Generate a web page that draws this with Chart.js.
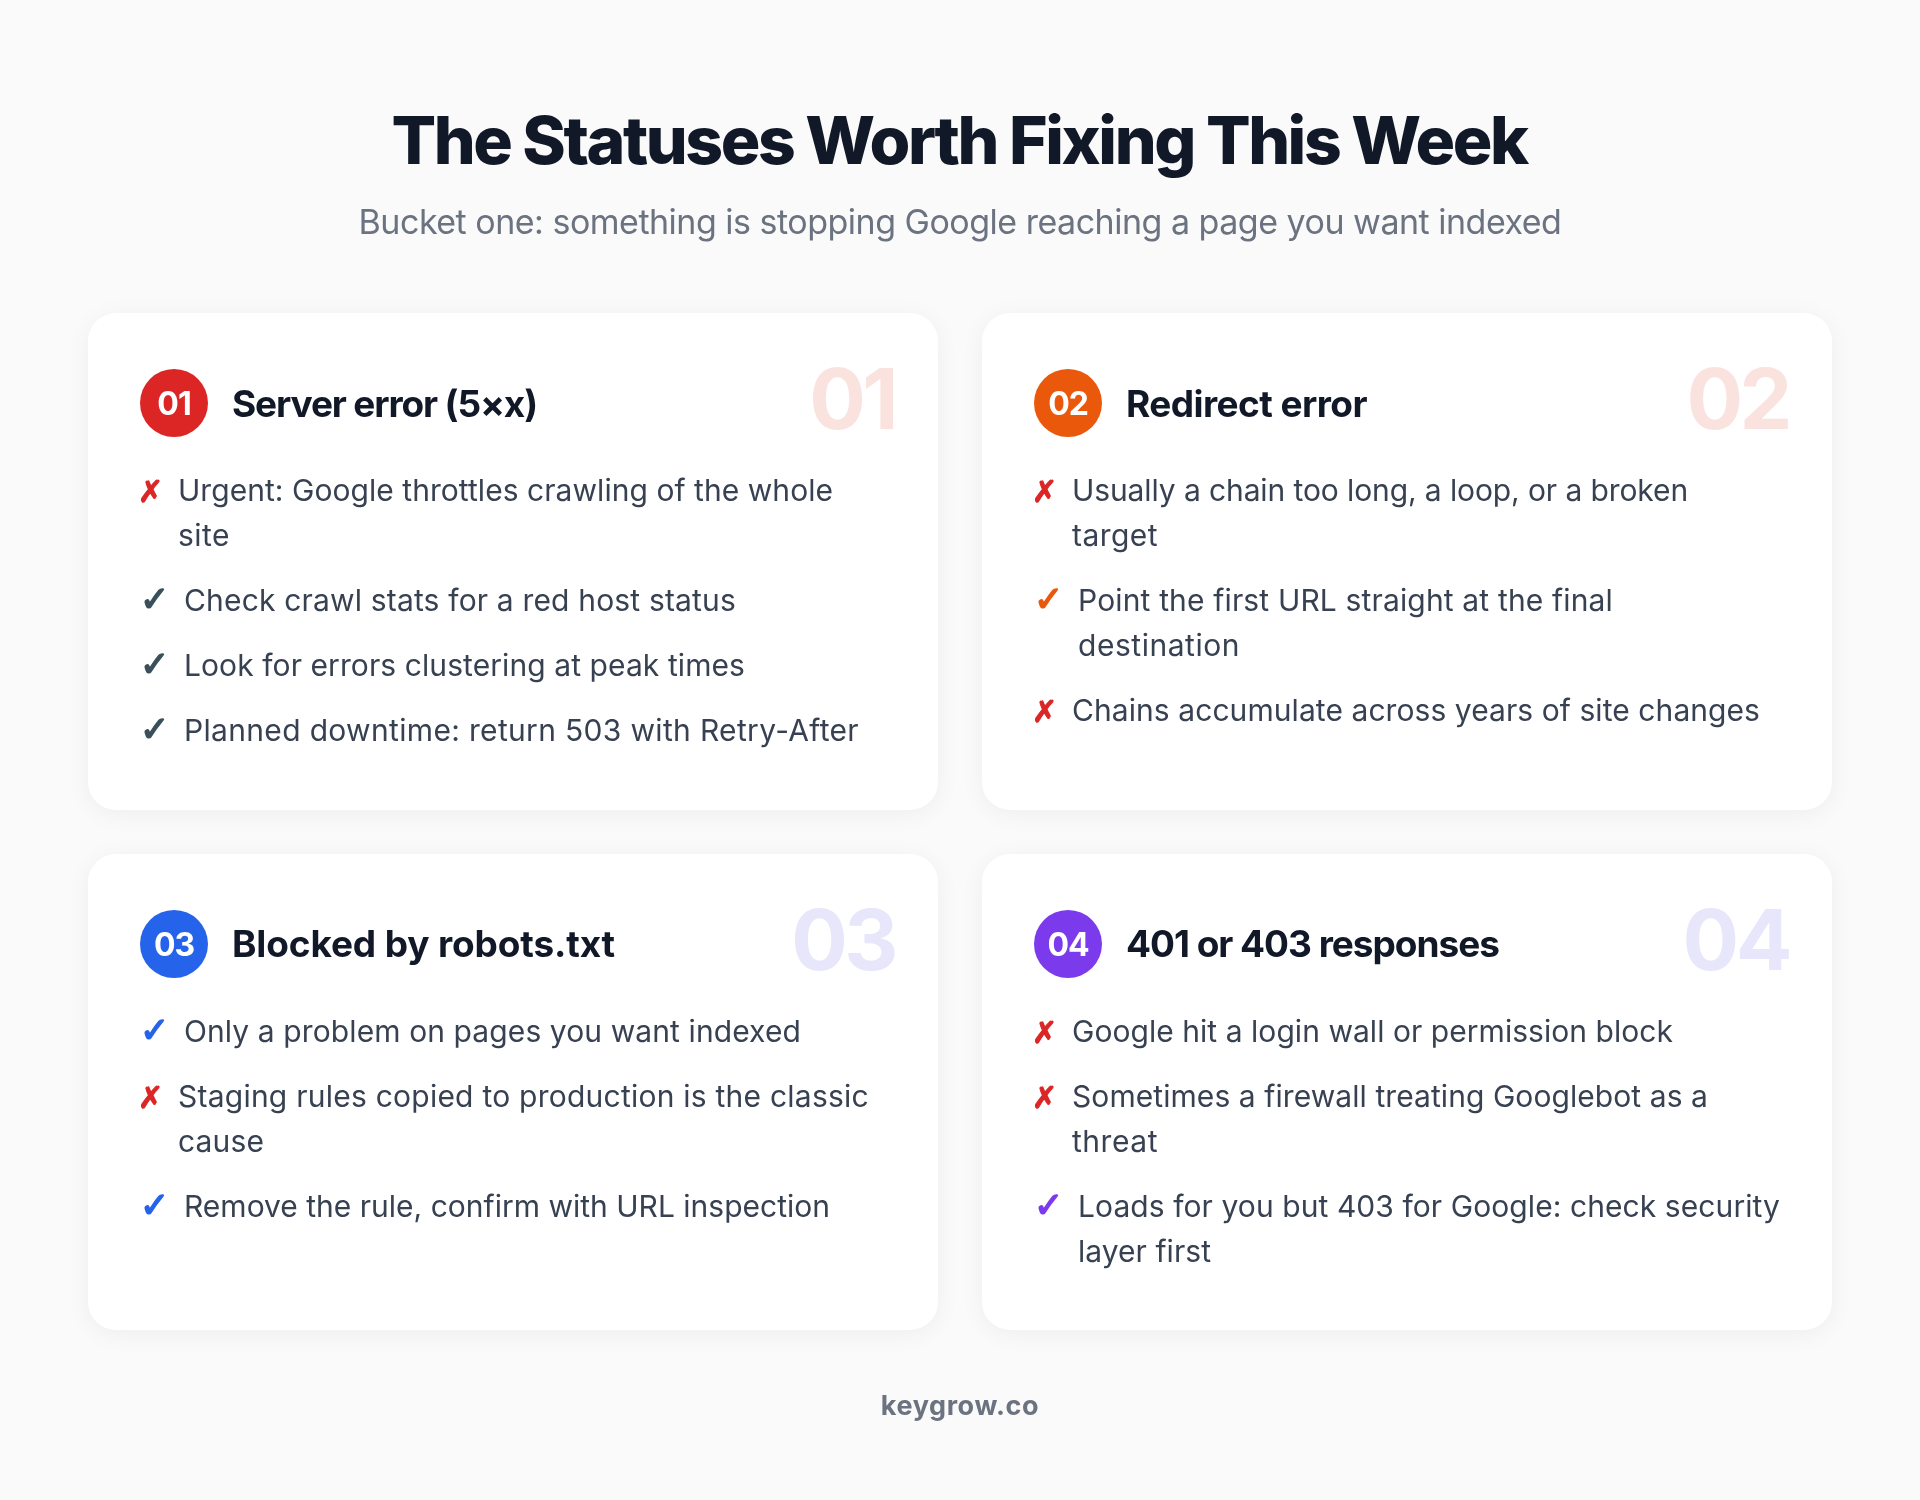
<!DOCTYPE html>
<html>
<head>
<meta charset="utf-8">
<title>The Statuses Worth Fixing This Week</title>
<script src="https://cdn.jsdelivr.net/npm/chart.js@4"></script>
<style>
    html, body { margin: 0; background: #fafafa; }
    canvas { display: block; }
</style>
</head>
<body>
<canvas id="chart" width="1920" height="1500"></canvas>
<script>
    var chartTitle = 'The Statuses Worth Fixing This Week';
    var chartSubtitle = 'Bucket one: something is stopping Google reaching a page you want indexed';
    var footerText = 'keygrow.co';

    var cardNumbers = ['01', '02', '03', '04'];
    var cardTitles = ['Server error (5×x)', 'Redirect error', 'Blocked by robots.txt', '401 or 403 responses'];

    // one entry per bullet, each bullet is a list of wrapped lines
    var card1Items = [['Urgent: Google throttles crawling of the whole', 'site'], ['Check crawl stats for a red host status'], ['Look for errors clustering at peak times'], ['Planned downtime: return 503 with Retry-After']];
    var card2Items = [['Usually a chain too long, a loop, or a broken', 'target'], ['Point the first URL straight at the final', 'destination'], ['Chains accumulate across years of site changes']];
    var card3Items = [['Only a problem on pages you want indexed'], ['Staging rules copied to production is the classic', 'cause'], ['Remove the rule, confirm with URL inspection']];
    var card4Items = [['Google hit a login wall or permission block'], ['Sometimes a firewall treating Googlebot as a', 'threat'], ['Loads for you but 403 for Google: check security', 'layer first']];

    var card1Marks = ['✗', '✓', '✓', '✓'];
    var card2Marks = ['✗', '✓', '✗'];
    var card3Marks = ['✓', '✗', '✓'];
    var card4Marks = ['✗', '✗', '✓'];

    var cardItems = [card1Items, card2Items, card3Items, card4Items];
    var cardMarks = [card1Marks, card2Marks, card3Marks, card4Marks];

    // page layout, in picture pixels
    var cardLeft = [88, 982, 88, 982];
    var cardTop = [313, 313, 854, 854];
    var cardWidth = 850;
    var cardHeight = [497, 497, 476, 476];
    var titleBaseline = [417, 417, 957, 957];

    // measured widths of the text in the picture, the installed font runs a bit different
    var titleWidths = [305, 241, 383, 373];
    var card1Widths = [655, 52, 552, 561, 675];
    var card2Widths = [616, 86, 535, 162, 688];
    var card3Widths = [617, 691, 86, 646];
    var card4Widths = [601, 636, 86, 702, 133];
    var cardLineWidths = [card1Widths, card2Widths, card3Widths, card4Widths];

    var badgeColors = ['#dc2626', '#ea580c', '#2563eb', '#7c3aed'];
    var checkColors = ['#3a505a', '#ea580c', '#2563eb', '#7c3aed'];
    var ghostColors = ['#fae3df', '#fae3df', '#e8e6fa', '#e8e6fa'];
    var crossColor = '#dc2626';

    var badgeX = cardLeft.map(function(v) { return v + 86; });
    var badgeY = cardTop.map(function(v) { return v + 90; });

    var textFont = 'Inter, sans-serif';
    var markFont = '"DejaVu Sans", sans-serif';

    function drawText(ctx, text, x, y, font, color, align, spacing) {
        ctx.font = font;
        ctx.fillStyle = color;
        ctx.textAlign = align || 'left';
        ctx.textBaseline = 'alphabetic';
        ctx.letterSpacing = spacing || '0px';
        ctx.fillText(text, x, y);
        ctx.letterSpacing = '0px';
    }

    // left aligned text squeezed or stretched to a width through letter spacing
    function drawFitted(ctx, text, x, y, font, color, width) {
        ctx.font = font;
        ctx.letterSpacing = '0px';
        var spacing = (width - ctx.measureText(text).width) / text.length;
        drawText(ctx, text, x, y, font, color, 'left', spacing.toFixed(3) + 'px');
    }

    function drawMark(ctx, mark, x, y, font, color, weight) {
        drawText(ctx, mark, x, y, font, color);
        ctx.strokeStyle = color;
        ctx.lineWidth = weight;
        ctx.strokeText(mark, x, y);
    }

    var cardsBehind = {
        id: 'cardsBehind',
        beforeDatasetsDraw: function(chart) {
            var ctx = chart.ctx, sx = chart.scales.x, sy = chart.scales.y;
            ctx.save();
            cardLeft.forEach(function(left, i) {
                var x = sx.getPixelForValue(left), y = sy.getPixelForValue(cardTop[i]);
                ctx.shadowColor = 'rgba(17,24,39,0.05)';
                ctx.shadowBlur = 24;
                ctx.shadowOffsetY = 4;
                ctx.fillStyle = '#ffffff';
                ctx.beginPath();
                ctx.roundRect(x, y, cardWidth, cardHeight[i], 28);
                ctx.fill();
            });
            ctx.restore();
        }
    };

    var cardsText = {
        id: 'cardsText',
        afterDatasetsDraw: function(chart) {
            var ctx = chart.ctx, sx = chart.scales.x, sy = chart.scales.y;
            ctx.save();
            drawText(ctx, chartTitle, sx.getPixelForValue(959), sy.getPixelForValue(164), '800 66px ' + textFont, '#111827', 'center', '-2.43px');
            drawText(ctx, chartSubtitle, sx.getPixelForValue(960), sy.getPixelForValue(234), '400 34px ' + textFont, '#6b7280', 'center', '-0.5px');
            drawText(ctx, footerText, sx.getPixelForValue(960), sy.getPixelForValue(1415), '700 27px ' + textFont, '#6b7280', 'center', '0.6px');

            cardLeft.forEach(function(left, i) {
                var x = sx.getPixelForValue(left), y = sy.getPixelForValue(cardTop[i]);
                drawText(ctx, cardNumbers[i], sx.getPixelForValue(badgeX[i]), sy.getPixelForValue(badgeY[i]) + 12, '700 32px ' + textFont, '#ffffff', 'center', '-1px');
                drawFitted(ctx, cardTitles[i], x + 144, sy.getPixelForValue(titleBaseline[i]), '700 37px ' + textFont, '#111827', titleWidths[i]);
                drawText(ctx, cardNumbers[i], x + 807, y + 116, '700 84px ' + textFont, ghostColors[i], 'right', '-3.5px');

                var line = y + 188, n = 0;
                cardItems[i].forEach(function(item, k) {
                    var mark = cardMarks[i][k];
                    var isCross = mark === '✗';
                    if (isCross) {
                        drawMark(ctx, mark, x + 50, line + 1, '700 30px ' + markFont, crossColor, 1.2);
                    } else {
                        drawMark(ctx, mark, x + 52, line, '700 35px ' + markFont, checkColors[i], 1.6);
                    }
                    item.forEach(function(text) {
                        drawFitted(ctx, text, x + (isCross ? 90 : 96), line, '400 30px ' + textFont, '#374151', cardLineWidths[i][n]);
                        n++;
                        line += 45;
                    });
                    line += 20;
                });
            });
            ctx.restore();
        }
    };

    new Chart(document.getElementById('chart'), {
        type: 'scatter',
        data: {
            datasets: [{
                label: 'Badges',
                data: badgeX.map(function(x, i) { return { x: x, y: badgeY[i] }; }),
                pointRadius: 34,
                pointHoverRadius: 34,
                pointBorderWidth: 0,
                pointBackgroundColor: badgeColors,
            }],
        },
        options: {
            animation: false,
            responsive: false,
            devicePixelRatio: 1,
            layout: { padding: 0, autoPadding: false },
            plugins: { legend: { display: false }, tooltip: { enabled: false } },
            scales: {
                x: { display: false, min: 0, max: 1920 },
                y: { display: false, min: 0, max: 1500, reverse: true },
            },
        },
        plugins: [cardsBehind, cardsText],
    });
</script>
</body>
</html>
